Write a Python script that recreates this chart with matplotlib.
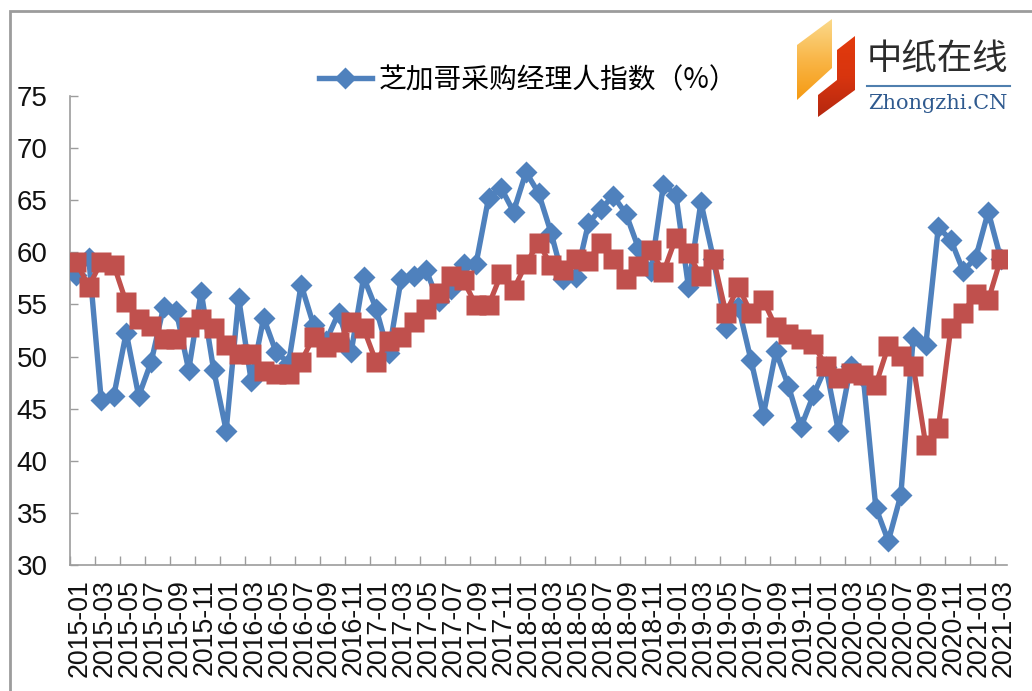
import numpy as np
import matplotlib
matplotlib.use("Agg")
import matplotlib.pyplot as plt
from matplotlib.lines import Line2D
from matplotlib.patches import Polygon
from matplotlib.transforms import ScaledTranslation

plt.rcParams['font.family'] = ['Liberation Sans', 'DejaVu Sans']

legend_label = "芝加哥采购经理人指数（%）"

# monthly values, 2015-01 to 2021-03
chicago_pmi = [57.8, 59.5, 45.8, 46.2, 52.3, 46.2, 49.5, 54.8, 54.4, 48.7, 56.2, 48.7,
               42.9, 55.6, 47.7, 53.7, 50.4, 49.4, 56.9, 53.0, 51.5, 54.2, 50.4, 57.6,
               54.6, 50.3, 57.4, 57.7, 58.3, 55.3, 56.5, 58.9, 58.9, 65.2, 66.2, 63.9,
               67.7, 65.7, 61.9, 57.4, 57.6, 62.8, 64.2, 65.4, 63.7, 60.4, 58.2, 66.5,
               65.5, 56.7, 64.8, 59.4, 52.7, 54.8, 49.7, 44.4, 50.5, 47.2, 43.2, 46.3,
               49.0, 42.9, 49.1, 48.0, 35.5, 32.3, 36.7, 51.9, 51.1, 62.4, 61.2, 58.2,
               59.5, 63.9, 59.4]

second_series = [59.1, 56.7, 59.1, 58.8, 55.2, 53.6, 52.9, 51.7, 51.7, 52.8, 53.6, 52.7,
                 51.1, 50.2, 50.2, 48.6, 48.3, 48.3, 49.5, 51.9, 50.9, 51.4, 53.3, 52.7,
                 49.5, 51.5, 51.9, 53.3, 54.6, 56.1, 57.7, 57.3, 54.9, 54.9, 57.9, 56.4,
                 58.9, 60.9, 58.8, 58.3, 59.4, 59.2, 60.9, 59.4, 57.4, 58.7, 60.2, 58.1,
                 61.4, 59.9, 57.7, 59.4, 54.2, 56.7, 54.2, 55.4, 52.8, 52.2, 51.7, 51.2,
                 49.1, 47.9, 48.4, 48.2, 47.3, 51.0, 50.1, 49.1, 41.5, 43.1, 52.7, 54.2,
                 56.0, 55.4, 59.4]

tick_labels = ["2015-01", "2015-03", "2015-05", "2015-07", "2015-09", "2015-11",
               "2016-01", "2016-03", "2016-05", "2016-07", "2016-09", "2016-11",
               "2017-01", "2017-03", "2017-05", "2017-07", "2017-09", "2017-11",
               "2018-01", "2018-03", "2018-05", "2018-07", "2018-09", "2018-11",
               "2019-01", "2019-03", "2019-05", "2019-07", "2019-09", "2019-11",
               "2020-01", "2020-03", "2020-05", "2020-07", "2020-09", "2020-11",
               "2021-01", "2021-03"]
y_ticks = [30, 35, 40, 45, 50, 55, 60, 65, 70, 75]

W, H = 1032, 691
fig = plt.figure(figsize=(W / 100, H / 100), dpi=100)

# whole-figure layer in pixels for the frame and the logo
bg = fig.add_axes([0, 0, 1, 1])
bg.set_xlim(0, W)
bg.set_ylim(H, 0)
bg.axis("off")
bg.add_line(Line2D([10, 10, W], [H, 11, 11], color="#9c9c9c", lw=2.0, solid_joinstyle="miter"))

orange = Polygon([(797, 45), (832, 19), (832, 68), (797, 100)], closed=True, fc="none", ec="none")
bg.add_patch(orange)
grad = np.linspace(0, 1, 64).reshape(-1, 1)
orange_cmap = matplotlib.colors.LinearSegmentedColormap.from_list("o", ["#fbd98a", "#f9b648", "#f59a12"])
im = bg.imshow(grad, extent=(797, 832, 100, 19), cmap=orange_cmap, aspect="auto")
im.set_clip_path(orange)
red = Polygon([(837, 50), (855, 36), (855, 90), (818, 117), (818, 95), (837, 80)], closed=True, fc="none", ec="none")
bg.add_patch(red)
red_cmap = matplotlib.colors.LinearSegmentedColormap.from_list("r", ["#e23a0c", "#d8350f", "#b5280f"])
im2 = bg.imshow(grad, extent=(818, 855, 117, 36), cmap=red_cmap, aspect="auto")
im2.set_clip_path(red)
bg.set_xlim(0, W)
bg.set_ylim(H, 0)
bg.add_line(Line2D([867, 1010], [86, 86], color="#4f7fae", lw=1.5))
bg.text(937, 60, "中纸在线", family=['Noto Sans CJK SC'], fontsize=25.5, color="#2c2c2c", ha="center", va="center")
bg.text(938, 103, "Zhongzhi.CN", family=['DejaVu Serif'], fontsize=15, color="#2f5a8f", ha="center", va="center")

# chart axes, placed on the reference's pixel box
ax = fig.add_axes([70 / W, 1 - 565 / H, 937 / W, 469 / H])
ax.patch.set_alpha(0)
x = np.arange(len(chicago_pmi))
blue_line, = ax.plot(x, chicago_pmi, color="#4f81bd", lw=3.9, marker="D", ms=11.5, mec="none", zorder=3)
ax.plot(x, second_series, color="#c0504d", lw=3.7, marker="s", ms=15, mec="none", zorder=4)

ax.set_xlim(-0.5, len(chicago_pmi) - 0.5)
ax.set_ylim(30, 75)
ax.set_yticks(y_ticks)
ax.tick_params(axis="y", direction="in", length=6, width=1, color="#9c9c9c", labelsize=20, pad=16, labelcolor="#111111")

# marks sit between categories, labels on every second category
ax.set_xticks(np.arange(0, len(chicago_pmi) + 1, 2) - 0.5)
ax.set_xticklabels([])
ax.set_xticks(np.arange(0, len(chicago_pmi), 2), minor=True)
ax.set_xticklabels(tick_labels, minor=True, rotation=90, fontsize=19.3, color="#111111")
ax.tick_params(axis="x", which="major", direction="in", length=6.5, width=1, color="#9c9c9c")
ax.tick_params(axis="x", which="minor", length=0, pad=10)
nudge = ScaledTranslation(3 / 100, 0, fig.dpi_scale_trans)
for lab in ax.get_xticklabels(minor=True):
    lab.set_transform(lab.get_transform() + nudge)

for side in ["top", "right"]:
    ax.spines[side].set_visible(False)
for side in ["left", "bottom"]:
    ax.spines[side].set_color("#9c9c9c")
    ax.spines[side].set_linewidth(1.2)

ax.legend([blue_line], [legend_label], loc="center left", bbox_to_anchor=(319 / W, 1 - 80 / H),
          bbox_transform=fig.transFigure, frameon=False, handlelength=1.9, handletextpad=0.25,
          borderpad=0, borderaxespad=0, prop={"family": ["Noto Sans CJK SC", "DejaVu Sans"], "size": 20})

fig.savefig("out.png", dpi=100)
